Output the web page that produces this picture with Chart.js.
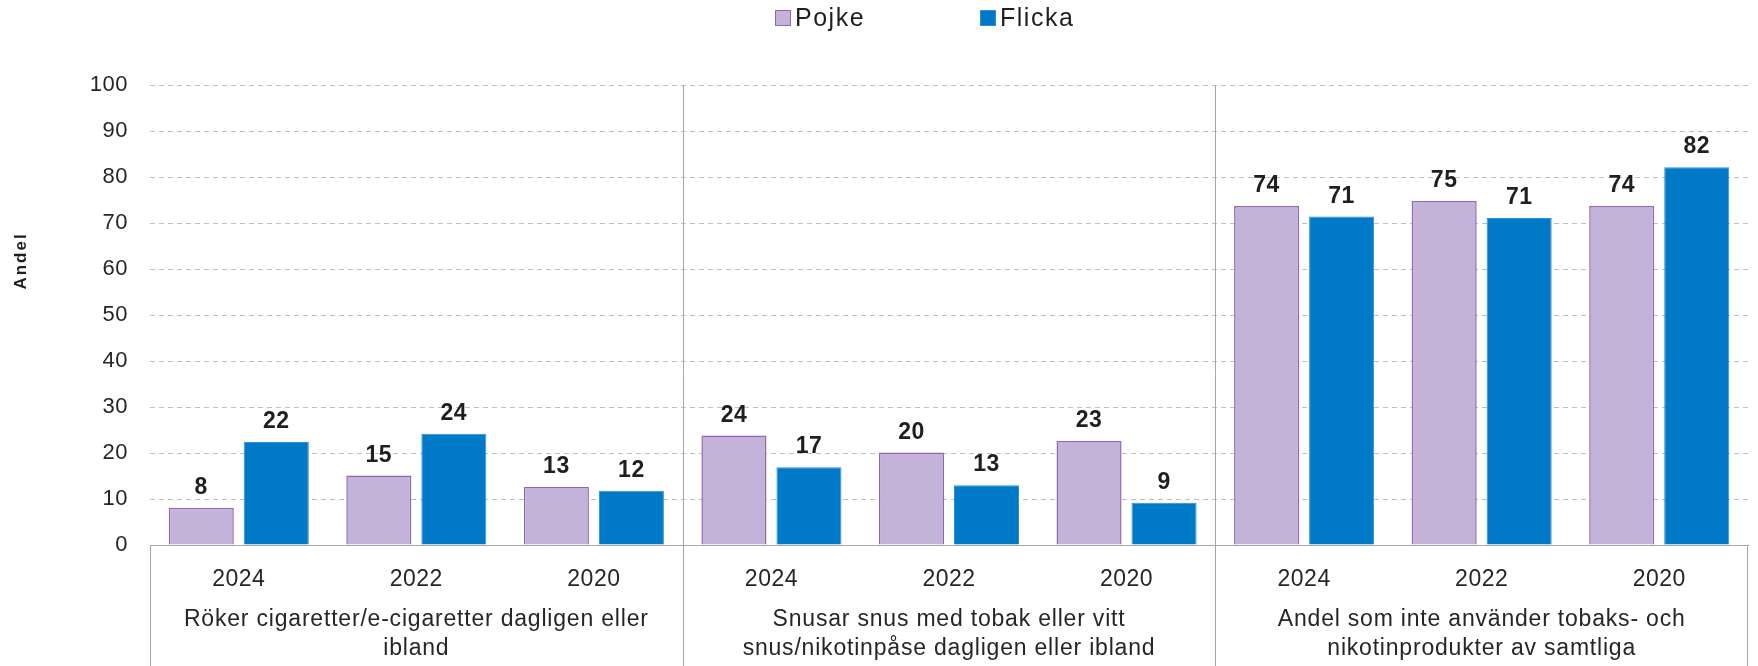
<!DOCTYPE html>
<html>
<head>
<meta charset="utf-8">
<script src="https://cdn.jsdelivr.net/npm/chart.js@4.4.1/dist/chart.umd.min.js"></script>
<style>
  html, body { margin: 0; padding: 0; background: #fff; }
  canvas { display: block; }
</style>
</head>
<body>
<canvas id="graficoAndel" width="1758" height="666"></canvas>
<script>
const ar = ['2024', '2022', '2020', '2024', '2022', '2020', '2024', '2022', '2020'];
const grupper = [
    ['Röker cigaretter/e-cigaretter dagligen eller', 'ibland'],
    ['Snusar snus med tobak eller vitt', 'snus/nikotinpåse dagligen eller ibland'],
    ['Andel som inte använder tobaks- och', 'nikotinprodukter av samtliga']
];
const pojke = [8.1, 15.1, 12.6, 23.8, 20.1, 22.6, 73.7, 74.8, 73.7];
const flicka = [22.4, 24.2, 11.8, 16.9, 13.0, 9.2, 71.4, 71.1, 82.1];
const yTicks = [0, 10, 20, 30, 40, 50, 60, 70, 80, 90, 100];
const yTitel = 'Andel';

const FONT = "'Liberation Sans', Arial, sans-serif";
const LINJE = '#A6A6A6';

// lite luftigare text, som i originalet
const spatiering = {
    id: 'spatiering',
    beforeDraw(chart) {
        chart.ctx.letterSpacing = '0.5px';
    }
};

// värden ovanför staplarna
const etiketter = {
    id: 'etiketter',
    afterDatasetsDraw(chart) {
        const ctx = chart.ctx;
        ctx.save();
        ctx.letterSpacing = '0.5px';
        ctx.font = 'bold 23px ' + FONT;
        ctx.fillStyle = '#1F1F1F';
        ctx.textAlign = 'center';
        ctx.textBaseline = 'alphabetic';
        chart.data.datasets.forEach((ds, i) => {
            chart.getDatasetMeta(i).data.forEach((bar, j) => {
                ctx.fillText(String(Math.round(ds.data[j])), bar.x, bar.y - 14);
            });
        });
        ctx.restore();
    }
};

// grupprubriker, avdelare, axeltitel och egen legend
const grupperPlugin = {
    id: 'grupper',
    afterDraw(chart) {
        const ctx = chart.ctx;
        const x = chart.scales.x;
        const area = chart.chartArea;
        const h = chart.height;
        ctx.save();
        ctx.strokeStyle = LINJE;
        ctx.lineWidth = 1;
        ctx.beginPath();
        [2.5, 5.5].forEach(v => {
            const px = Math.round(x.getPixelForValue(v)) + 0.5;
            ctx.moveTo(px, area.top);
            ctx.lineTo(px, h);
        });
        ctx.moveTo(Math.round(area.left) + 0.5, area.bottom);
        ctx.lineTo(Math.round(area.left) + 0.5, h);
        ctx.moveTo(Math.round(area.right) - 0.5, area.bottom);
        ctx.lineTo(Math.round(area.right) - 0.5, h);
        ctx.stroke();

        ctx.letterSpacing = '0.8px';
        ctx.font = '23px ' + FONT;
        ctx.fillStyle = '#262626';
        ctx.textAlign = 'center';
        ctx.textBaseline = 'middle';
        grupper.forEach((rader, g) => {
            const cx = x.getPixelForValue(g * 3 + 1);
            rader.forEach((rad, r) => {
                ctx.fillText(rad, cx, 620 + r * 29);
            });
        });

        // y-axelns titel
        ctx.save();
        ctx.translate(21, 262);
        ctx.rotate(-Math.PI / 2);
        ctx.letterSpacing = '2px';
        ctx.font = 'bold 17px ' + FONT;
        ctx.fillStyle = '#1F1F1F';
        ctx.fillText(yTitel, 1, 0);
        ctx.restore();

        // legend
        const mitt = chart.width / 2;
        const poster = [
            { x: mitt - 104, ds: chart.data.datasets[0] },
            { x: mitt + 101, ds: chart.data.datasets[1] }
        ];
        ctx.letterSpacing = '1.5px';
        ctx.font = '25px ' + FONT;
        ctx.textAlign = 'left';
        ctx.textBaseline = 'middle';
        poster.forEach(p => {
            ctx.fillStyle = p.ds.backgroundColor;
            ctx.fillRect(p.x, 10, 16, 16);
            ctx.strokeStyle = p.ds.borderColor;
            ctx.lineWidth = 1;
            ctx.strokeRect(p.x + 0.5, 10.5, 15, 15);
            ctx.fillStyle = '#1F1F1F';
            ctx.fillText(p.ds.label, p.x + 20, 19);
        });
        ctx.restore();
    }
};

const ctxAndel = document.getElementById('graficoAndel').getContext('2d');
const graficoAndel = new Chart(ctxAndel, {
    type: 'bar',
    data: {
        labels: ar,
        datasets: [
            {
                label: 'Pojke',
                data: pojke,
                backgroundColor: '#C4B3D9',
                borderColor: '#9266B0',
                borderWidth: 1.5,
                categoryPercentage: 0.845,
                barPercentage: 0.867
            },
            {
                label: 'Flicka',
                data: flicka,
                backgroundColor: '#0079C6',
                borderColor: '#2E8FD6',
                borderWidth: 1,
                categoryPercentage: 0.845,
                barPercentage: 0.867
            }
        ]
    },
    options: {
        responsive: false,
        animation: false,
        layout: {
            padding: { top: 85, right: 10, bottom: 0, left: 0 }
        },
        plugins: {
            legend: { display: false },
            tooltip: { enabled: false }
        },
        scales: {
            x: {
                grid: { display: false, drawTicks: false },
                border: { display: true, color: LINJE, width: 1 },
                ticks: {
                    font: { family: FONT, size: 23 },
                    color: '#262626',
                    padding: 21,
                    maxRotation: 0,
                    autoSkip: false
                },
                afterFit(scale) { scale.height = 121; }
            },
            y: {
                min: 0,
                max: 100,
                afterBuildTicks(scale) { scale.ticks = yTicks.map(v => ({ value: v })); },
                grid: {
                    drawTicks: false,
                    color: c => (c.tick && c.tick.value === 0) ? 'rgba(0,0,0,0)' : '#BFBFBF',
                    lineWidth: 1
                },
                border: { display: false, dash: [5, 4] },
                ticks: {
                    font: { family: FONT, size: 22 },
                    color: '#262626',
                    padding: 22
                },
                afterFit(scale) { scale.width = 150; }
            }
        }
    },
    plugins: [spatiering, etiketter, grupperPlugin]
});
</script>
</body>
</html>
